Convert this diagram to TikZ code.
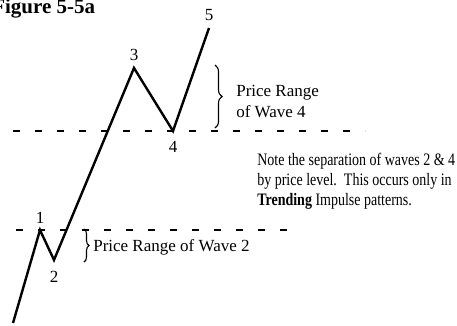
\documentclass[tikz,border=0pt]{standalone}
\usepackage{fontspec}
\setmainfont{Liberation Serif}
\usepackage{tikz}
\usetikzlibrary{positioning,decorations.pathreplacing}

\begin{document}
\begin{tikzpicture}[x=1pt, y=-1pt, semithick]

\tikzstyle{wave}=[draw=black, line width=2.4pt, line join=miter]
\tikzstyle{pricelevel}=[draw=black, line width=1.8pt, dash pattern=on 7pt off 15pt]
\tikzstyle{rangebrace}=[draw=black, line width=1.1pt, decorate,
    decoration={brace, amplitude=7pt}]
\tikzstyle{lbl}=[inner sep=0pt, font=\fontsize{17}{20}\selectfont]
\tikzstyle{txt}=[inner sep=0pt, anchor=west, align=left,
    font=\fontsize{17}{21}\selectfont]

\useasboundingbox (0,0) rectangle (457,325);

% title, cut at the left edge
\node[inner sep=0pt, anchor=base west, font=\fontsize{21}{24}\bfseries] (Title) at (-8,13) {Figure 5-5a};

% wave end points
\coordinate (W0) at (13,323);
\coordinate (W1) at (40,230);
\coordinate (W2) at (54,260);
\coordinate (W3) at (134,68);
\coordinate (W4) at (173,131);
\coordinate (W5) at (209,28);

% price levels of waves 1 and 4
\coordinate (L1a) at (16,230);
\coordinate (L1b) at (300,230);
\coordinate (L4a) at (13,131);
\coordinate (L4b) at (365,131);

\path[pricelevel] (L1a) -- (L1b);
\path[pricelevel] (L4a) -- (L4b);

\path[wave] (W0) -- (W1) -- (W2) -- (W3) -- (W4) -- (W5);

\node[lbl] (N1) [above=6pt of W1] {1};
\node[lbl] (N2) [below=11pt of W2] {2};
\node[lbl] (N3) [above=7pt of W3] {3};
\node[lbl] (N4) [below=10pt of W4] {4};
\node[lbl] (N5) [above=7pt of W5] {5};

% ranges
\coordinate (B4a) at (215,65);
\coordinate (B4b) at (215,128);
\coordinate (B2a) at (84,229);
\coordinate (B2b) at (84,262);

\path[rangebrace] (B4a) -- (B4b);
\path[rangebrace, decoration={brace, amplitude=5pt}] (B2a) -- (B2b);

\node[txt] (R4) at (236,101) {Price Range\\of Wave 4};
\node[txt] (R2) at (93,247) {Price Range of Wave 2};

\node[txt, font=\fontsize{17.5}{20}\selectfont\addfontfeature{FakeStretch=0.8}] (Note) at (257,181) {Note the separation of waves 2 \& 4\\
by price level.\ \ This occurs only in\\
\textbf{Trending} Impulse patterns.};

\end{tikzpicture}
\end{document}
